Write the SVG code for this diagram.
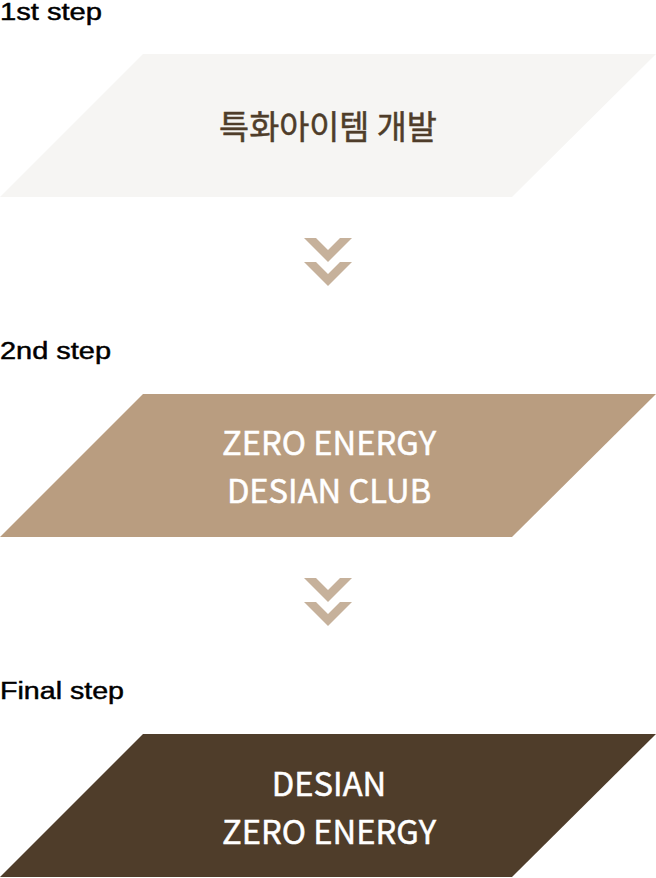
<svg xmlns="http://www.w3.org/2000/svg" width="656" height="878" viewBox="0 0 656 878">
<defs>
<style>
.lbl{font-family:"Liberation Sans",Arial,sans-serif;font-size:23px;fill:#000;stroke:#000;stroke-width:0.45px;}
.bt{font-family:"Noto Sans CJK KR","Noto Sans",sans-serif;font-size:32.7px;font-weight:400;text-anchor:middle;stroke-width:0.5px;}
.w{fill:#ffffff;stroke:#ffffff;}
.d{fill:#4f3d2a;stroke:#4f3d2a;}
.chev{fill:#c6b19b;}
</style>
<polygon id="chevron" points="-24,0 -12,0 0,12 12,0 24,0 0,24"/>
</defs>
<rect width="656" height="878" fill="#ffffff"/>
<g id="step1">
<text class="lbl" x="0" y="20" textLength="102" lengthAdjust="spacingAndGlyphs">1st step</text>
<polygon points="143,54 656,54 512,197 0,197" fill="#f6f5f3"/>
<text class="bt d" x="328" y="139" font-size="28.5">특화아이템 개발</text>
</g>
<g id="step2">
<text class="lbl" x="0" y="359" textLength="111" lengthAdjust="spacingAndGlyphs">2nd step</text>
<polygon points="143,394 656,394 512,537 0,537" fill="#b99d80"/>
<text class="bt w" x="329" y="455">ZERO ENERGY</text>
<text class="bt w" x="329" y="503">DESIAN CLUB</text>
</g>
<g id="step3">
<text class="lbl" x="0" y="699" textLength="124" lengthAdjust="spacingAndGlyphs">Final step</text>
<polygon points="143,734 656,734 512,877 0,877" fill="#4f3d2a"/>
<text class="bt w" x="329" y="796">DESIAN</text>
<text class="bt w" x="329" y="844">ZERO ENERGY</text>
</g>
<g id="connectors">
<use href="#chevron" x="328" y="238" class="chev"/>
<use href="#chevron" x="328" y="262" class="chev"/>
<use href="#chevron" x="328" y="578" class="chev"/>
<use href="#chevron" x="328" y="602" class="chev"/>
</g>
</svg>
